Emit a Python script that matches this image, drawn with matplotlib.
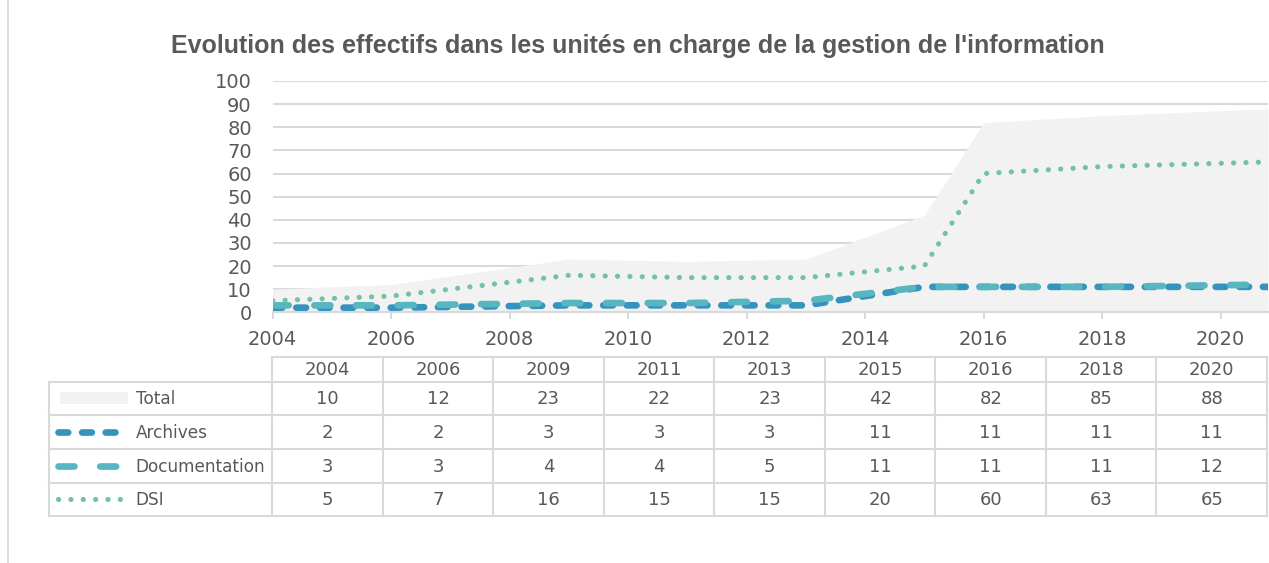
import matplotlib.pyplot as plt
from matplotlib.lines import Line2D
from matplotlib.patches import Rectangle

plt.rcParams['lines.scale_dashes'] = False

# data
years = ['2004', '2006', '2009', '2011', '2013', '2015', '2016', '2018', '2020']
dates = [2004, 2006, 2009, 2011, 2013, 2015, 2016, 2018, 2020.8]  # position on the date axis
total = [10, 12, 23, 22, 23, 42, 82, 85, 88]
archives = [2, 2, 3, 3, 3, 11, 11, 11, 11]
documentation = [3, 3, 4, 4, 5, 11, 11, 11, 12]
dsi = [5, 7, 16, 15, 15, 20, 60, 63, 65]

names = ['Total', 'Archives', 'Documentation', 'DSI']
series = [total, archives, documentation, dsi]

txt = '#595959'
grid = '#D9D9D9'
c_total = '#F2F2F2'
c_arch = '#3594BD'
c_doc = '#57B6C0'
c_dsi = '#74C2A3'

styles = {
    'Archives': dict(color=c_arch, lw=4.8, dashes=(7, 10), dash_capstyle='round'),
    'Documentation': dict(color=c_doc, lw=4.8, dashes=(11.5, 18.5), dash_capstyle='round'),
    'DSI': dict(color=c_dsi, lw=3.7, dashes=(0.1, 8.8), dash_capstyle='round'),
}

W, H = 1269, 563
fig = plt.figure(figsize=(W / 100, H / 100), dpi=100)

def box(x0, y0, x1, y1):
    return [x0 / W, 1 - y1 / H, (x1 - x0) / W, (y1 - y0) / H]

# chart
ax = fig.add_axes(box(272.7, 81, 1268, 312.3))
ax.fill_between(dates, total, 0, color=c_total, lw=0, zorder=1)
ax.plot(dates, archives, zorder=3, **styles['Archives'])
ax.plot(dates, documentation, zorder=4, **styles['Documentation'])
ax.plot(dates, dsi, zorder=5, **styles['DSI'])

ax.set_xlim(2004, 2020.8)
ax.set_ylim(0, 100)
ax.set_yticks(range(0, 101, 10))
ax.set_xticks(range(2004, 2021, 2))
ax.grid(axis='y', color=grid, lw=1.5, zorder=0)
ax.set_axisbelow(True)
for s in ['top', 'right', 'left']:
    ax.spines[s].set_visible(False)
ax.spines['bottom'].set_color(grid)
ax.spines['bottom'].set_linewidth(1.5)
ax.spines['bottom'].set_zorder(2)
ax.tick_params(axis='y', length=0, pad=15, labelsize=14, labelcolor=txt)
ax.tick_params(axis='x', length=5, width=1.5, color=grid, pad=8, labelsize=14, labelcolor=txt)

fig.text(638 / W, 1 - 46 / H,
         "Evolution des effectifs dans les unités en charge de la gestion de l'information",
         ha='center', va='center', fontsize=18, fontweight='bold', color=txt,
         family='Liberation Sans')

# data table
tx = fig.add_axes(box(0, 0, W, H))
tx.set_xlim(0, W)
tx.set_ylim(H, 0)
tx.axis('off')

left, lab_r, right = 49.3, 272.3, 1267
row_y = [356.7, 381.7, 415, 449, 482.7, 515.7]
col_w = (right - lab_r) / len(years)
lkw = dict(color=grid, lw=1.5)

# horizontal lines
tx.plot([lab_r, right], [row_y[0], row_y[0]], **lkw)
for y in row_y[1:]:
    tx.plot([left, right], [y, y], **lkw)
# vertical lines
tx.plot([left, left], [row_y[1], row_y[-1]], **lkw)
for i in range(len(years) + 1):
    x = lab_r + i * col_w
    tx.plot([x, x], [row_y[0], row_y[-1]], **lkw)

for i, yr in enumerate(years):
    cx = lab_r + (i + 0.5) * col_w
    tx.text(cx, (row_y[0] + row_y[1]) / 2 + 1, yr, ha='center', va='center',
            fontsize=13, color=txt)
    for r, vals in enumerate(series):
        cy = (row_y[r + 1] + row_y[r + 2]) / 2 + 1
        tx.text(cx, cy, str(vals[i]), ha='center', va='center', fontsize=13, color=txt)

for r, name in enumerate(names):
    cy = (row_y[r + 1] + row_y[r + 2]) / 2
    if name == 'Total':
        tx.add_patch(Rectangle((60, cy - 6), 68, 12, color=c_total, lw=0))
    else:
        tx.add_line(Line2D([58, 122], [cy, cy], **styles[name]))
    tx.text(135.5, cy + 1, name, ha='left', va='center', fontsize=12.2, color=txt)

# chart border
tx.plot([8, 8], [0, H], color=grid, lw=1.2)

fig.savefig('out.png', dpi=100)
